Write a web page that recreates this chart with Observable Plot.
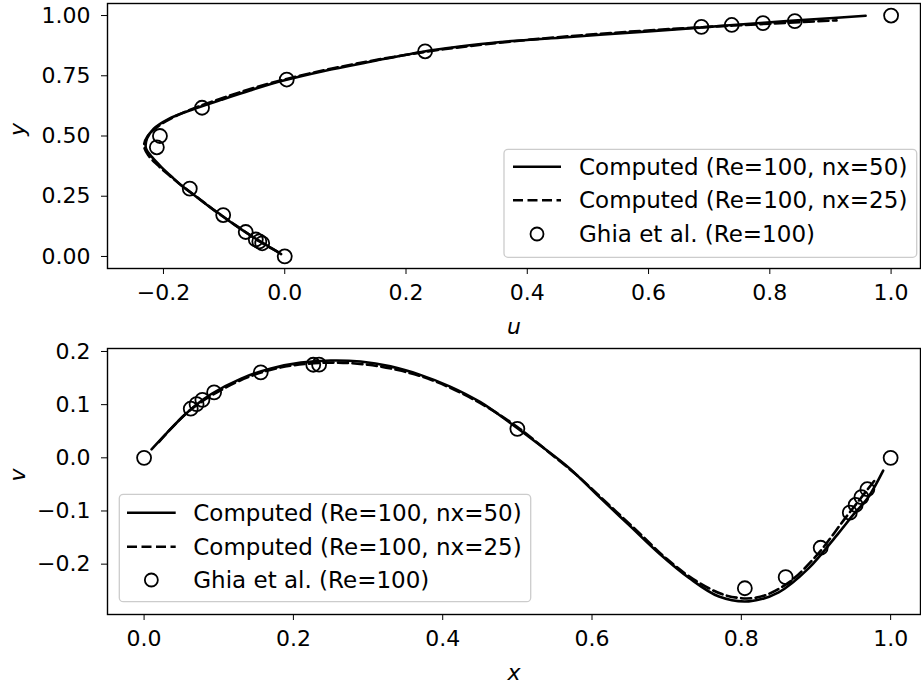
<!DOCTYPE html>
<html><head><meta charset="utf-8">
<script src="https://cdn.jsdelivr.net/npm/d3@7"></script>
<script src="https://cdn.jsdelivr.net/npm/@observablehq/plot@0.6"></script>
<style>
body{margin:0;background:#fff;}
#chart{position:relative;width:921px;height:685px;}
#chart svg{display:block;}
</style></head><body><div id="chart"></div>
<script>
const seriesNames = ["Computed (Re=100, nx=50)", "Computed (Re=100, nx=25)", "Ghia et al. (Re=100)"];

// Top panel: u along the vertical centreline
const y50 = [0.01,0.03,0.05,0.07,0.09,0.13,0.17,0.21,0.25,0.29,0.33,0.37,0.41,0.45,0.49,0.53,0.57,0.61,0.65,0.69,0.73,0.77,0.81,0.85,0.87,0.89,0.91,0.93,0.95,0.97,0.99,0.999];
const u50 = [-0.006,-0.019,-0.032,-0.045,-0.058,-0.082,-0.104,-0.126,-0.147,-0.168,-0.186,-0.203,-0.218,-0.229,-0.227,-0.216,-0.192,-0.152,-0.105,-0.056,-0.002,0.065,0.145,0.228,0.285,0.356,0.465,0.575,0.684,0.79,0.905,0.958];
const y25 = [0.02,0.06,0.10,0.14,0.18,0.22,0.26,0.30,0.34,0.38,0.42,0.46,0.50,0.54,0.58,0.62,0.66,0.70,0.74,0.78,0.82,0.86,0.90,0.94,0.98];
const u25 = [-0.012,-0.040,-0.064,-0.087,-0.110,-0.131,-0.152,-0.173,-0.192,-0.210,-0.225,-0.232,-0.226,-0.209,-0.182,-0.145,-0.100,-0.050,0.008,0.078,0.160,0.262,0.405,0.610,0.910];
const ghiaY = [1.0000,0.9766,0.9688,0.9609,0.9531,0.8516,0.7344,0.6172,0.5000,0.4531,0.2813,0.1719,0.1016,0.0703,0.0625,0.0547,0.0000];
const ghiaU = [1.00000,0.84123,0.78871,0.73722,0.68717,0.23151,0.00332,-0.13641,-0.20581,-0.21090,-0.15662,-0.10150,-0.06434,-0.04775,-0.04192,-0.03717,0.00000];

// Bottom panel: v along the horizontal centreline
const x50 = [0.01,0.03,0.05,0.07,0.09,0.13,0.17,0.21,0.25,0.29,0.33,0.37,0.41,0.45,0.49,0.53,0.57,0.61,0.65,0.69,0.73,0.77,0.81,0.85,0.89,0.93,0.95,0.97,0.99];
const v50 = [0.016,0.046,0.075,0.100,0.120,0.149,0.168,0.179,0.183,0.181,0.172,0.156,0.134,0.105,0.066,0.024,-0.020,-0.074,-0.127,-0.180,-0.226,-0.261,-0.270,-0.253,-0.208,-0.142,-0.107,-0.074,-0.024];
const x25 = [0.02,0.06,0.10,0.14,0.18,0.22,0.26,0.30,0.34,0.38,0.42,0.46,0.50,0.54,0.58,0.62,0.66,0.70,0.74,0.78,0.82,0.86,0.90,0.94,0.98];
const v25 = [0.030,0.088,0.125,0.152,0.169,0.177,0.179,0.175,0.165,0.149,0.125,0.095,0.058,0.013,-0.033,-0.085,-0.137,-0.190,-0.232,-0.259,-0.263,-0.238,-0.185,-0.112,-0.040];
const ghiaX = [1.0000,0.9688,0.9609,0.9531,0.9453,0.9063,0.8594,0.8047,0.5000,0.2344,0.2266,0.1563,0.0938,0.0781,0.0703,0.0625,0.0000];
const ghiaV = [0.00000,-0.05906,-0.07391,-0.08864,-0.10313,-0.16914,-0.22445,-0.24533,0.05454,0.17527,0.17507,0.16077,0.12317,0.10890,0.10091,0.09233,0.00000];

const topXTicks = [-0.2,0,0.2,0.4,0.6,0.8,1.0];
const topYTicks = [0,0.25,0.5,0.75,1.0];
const botXTicks = [0,0.2,0.4,0.6,0.8,1.0];
const botYTicks = [-0.2,-0.1,0,0.1,0.2];

const FS = 22;   // tick labels
const LFS = 23;  // legend
const zipXY = (xs, ys) => xs.map((x, i) => ({x, y: ys[i]}));

function panel(o) {
  const svg = Plot.plot({
    width: 921, height: o.height,
    marginLeft: 107, marginRight: 1, marginTop: o.marginTop, marginBottom: o.marginBottom,
    style: {fontFamily: "DejaVu Sans", fontSize: FS + "px", color: "black", background: "white", overflow: "visible"},
    x: {domain: o.xDomain, ticks: o.xTicks, tickFormat: o.xFmt, tickSize: 6, tickPadding: 10, label: null},
    y: {domain: o.yDomain, ticks: o.yTicks, tickFormat: o.yFmt, tickSize: 6, tickPadding: 11, label: null},
    marks: [
      Plot.line(o.fine, {x: "x", y: "y", stroke: "black", strokeWidth: 2.6, curve: "catmull-rom"}),
      Plot.line(o.coarse, {x: "x", y: "y", stroke: "black", strokeWidth: 2.6, strokeDasharray: "10,4.5", curve: "catmull-rom"}),
      Plot.dot(o.ghia, {x: "x", y: "y", r: 7, stroke: "black", strokeWidth: 1.8, fill: "none"}),
      Plot.frame({stroke: "black", strokeWidth: 1.4}),
      Plot.text([o.xLabel], {frameAnchor: "bottom", dy: 58, text: d => d, fontStyle: "italic", fontSize: 22, lineAnchor: "middle"}),
      Plot.text([o.yLabel], {frameAnchor: "left", dx: -90, text: d => d, fontStyle: "italic", fontSize: 22, rotate: -90, lineAnchor: "middle"})
    ]
  });
  const L = o.legend;
  const g = d3.select(svg).append("g").attr("font-family", "DejaVu Sans").attr("font-size", LFS).attr("text-anchor", "start");
  g.append("rect").attr("x", L.x0).attr("y", L.y0).attr("width", L.x1 - L.x0).attr("height", L.y1 - L.y0)
    .attr("rx", 4).attr("fill", "white").attr("fill-opacity", 0.8).attr("stroke", "#cccccc").attr("stroke-width", 1.3);
  seriesNames.forEach((name, i) => {
    const yy = L.rows[i];
    if (i < 2) {
      g.append("line").attr("x1", L.lx0).attr("x2", L.lx1).attr("y1", yy).attr("y2", yy)
        .attr("stroke", "black").attr("stroke-width", 2.6).attr("stroke-dasharray", i === 1 ? "10,4.5" : null);
    } else {
      g.append("circle").attr("cx", (L.lx0 + L.lx1) / 2).attr("cy", yy).attr("r", 6.5)
        .attr("fill", "none").attr("stroke", "black").attr("stroke-width", 1.8);
    }
    g.append("text").attr("x", L.tx).attr("y", yy).attr("dy", "0.35em").attr("text-anchor", "start").text(name);
  });
  return svg;
}

const topPanel = panel({
  height: 330, marginTop: 3, marginBottom: 62,
  xDomain: [-0.2923, 1.0485], yDomain: [-0.05, 1.05],
  xTicks: topXTicks, yTicks: topYTicks, xFmt: d3.format(".1f"), yFmt: d3.format(".2f"),
  fine: zipXY(u50, y50), coarse: zipXY(u25, y25), ghia: zipXY(ghiaU, ghiaY),
  xLabel: "u", yLabel: "y",
  legend: {x0: 504, x1: 916.7, y0: 149.3, y1: 257.3, rows: [166.7, 200.3, 234], lx0: 513, lx1: 561, tx: 579}
});
const botPanel = panel({
  height: 355, marginTop: 18, marginBottom: 71,
  xDomain: [-0.049, 1.04], yDomain: [-0.2947, 0.2056],
  xTicks: botXTicks, yTicks: botYTicks, xFmt: d3.format(".1f"), yFmt: d3.format(".1f"),
  fine: zipXY(x50, v50), coarse: zipXY(x25, v25), ghia: zipXY(ghiaX, ghiaV),
  xLabel: "x", yLabel: "v",
  legend: {x0: 119.3, x1: 530.7, y0: 164.3, y1: 271.7, rows: [182.7, 216.7, 250], lx0: 127, lx1: 175.7, tx: 193.3}
});
document.getElementById("chart").append(topPanel, botPanel);
</script>
</body></html>
